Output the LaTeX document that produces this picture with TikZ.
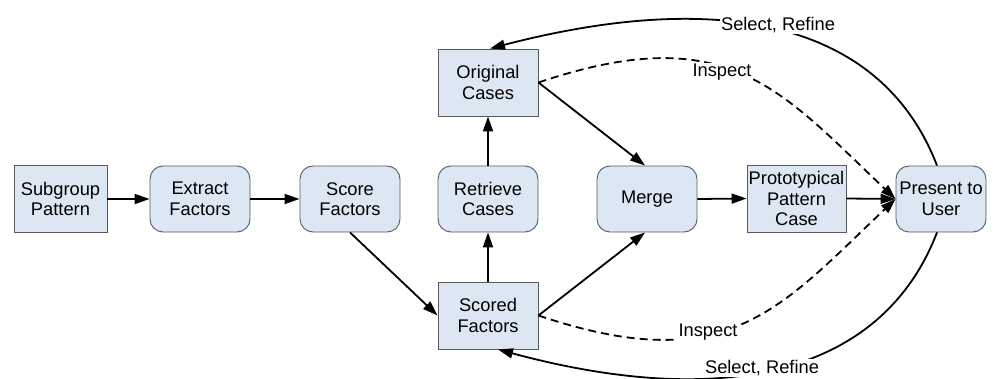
\documentclass[tikz,border=0pt]{standalone}
\usepackage{fontspec}
\setmainfont{Liberation Sans}
\usetikzlibrary{arrows.meta,calc}
\definecolor{boxfill}{RGB}{221,231,243}
\definecolor{boxline}{RGB}{90,90,90}
\tikzset{
  base/.style={draw=boxline, line width=0.9pt, fill=boxfill, align=center,
    inner sep=0pt, font=\fontsize{18.3}{20.5}\selectfont},
  sqbox/.style={base, minimum width=100pt, minimum height=67pt},
  rdbox/.style={base, rounded corners=13pt, minimum width=100pt, minimum height=66pt},
  conn/.style={line width=1.8pt, -{Triangle[length=15pt,width=10pt]}},
  dconn/.style={conn, dash pattern=on 8pt off 5pt},
  lbl/.style={fill=white, inner sep=1pt, font=\fontsize{18.3}{20.5}\selectfont}
}
\begin{document}
\begin{tikzpicture}[x=1pt,y=-1pt]
\clip (0,0) rectangle (995,379);
\fill[white] (0,0) rectangle (995,379);
\node[sqbox, minimum width=93pt] (sp) at (60.5,199) {Subgroup\\Pattern};
\node[rdbox] (ef) at (200,199) {Extract\\Factors};
\node[rdbox] (scf) at (350,199) {Score\\Factors};
\node[rdbox] (rc) at (488,199) {Retrieve\\Cases};
\node[sqbox] (oc) at (488,82.5) {Original\\Cases};
\node[sqbox] (sf) at (488,315.5) {Scored\\Factors};
\node[rdbox] (mg) at (647,199) {Merge};
\node[sqbox, minimum width=99pt] (pp) at (796.5,198.5) {Prototypical\\Pattern\\Case};
\node[rdbox, minimum width=90pt] (pu) at (941,199) {Present to\\User};

\draw[conn] (sp.east) -- (ef.west);
\draw[conn] (ef.east) -- (scf.west);
\draw[conn] (scf.south) -- (sf.west);
\draw[conn] (sf.north) -- (rc.south);
\draw[conn] (rc.north) -- (oc.south);
\draw[conn] (oc.east) -- ($(mg.north)+(-2,0)$);
\draw[conn] (sf.east) -- ($(mg.south)+(-2,0)$);
\draw[conn] (mg.east) -- (pp.west);
\draw[conn] (pp.east) -- (pu.west);

\draw[dconn] (oc.east) .. controls (727.4,18.8) and (779.2,88.8) .. (pu.west);
\draw[dconn] (sf.east) .. controls (727.4,379.2) and (779.2,309.2) .. (pu.west);

\draw[conn] ($(pu.north)+(-4,0)$) .. controls (879.6,16.7) and (712.4,-9.4) .. ($(oc.north)+(2,0)$);
\draw[conn] ($(pu.south)+(-4,0)$) .. controls (879.6,381.3) and (712.4,407.4) .. ($(sf.south)+(10,0)$);

\node[lbl] (l1) at (778,25) {Select, Refine};
\node[lbl] (l2) at (722,72) {Inspect};
\node[lbl] (l3) at (708,332) {Inspect};
\node[lbl] (l4) at (762,368) {Select, Refine};
\end{tikzpicture}
\end{document}
